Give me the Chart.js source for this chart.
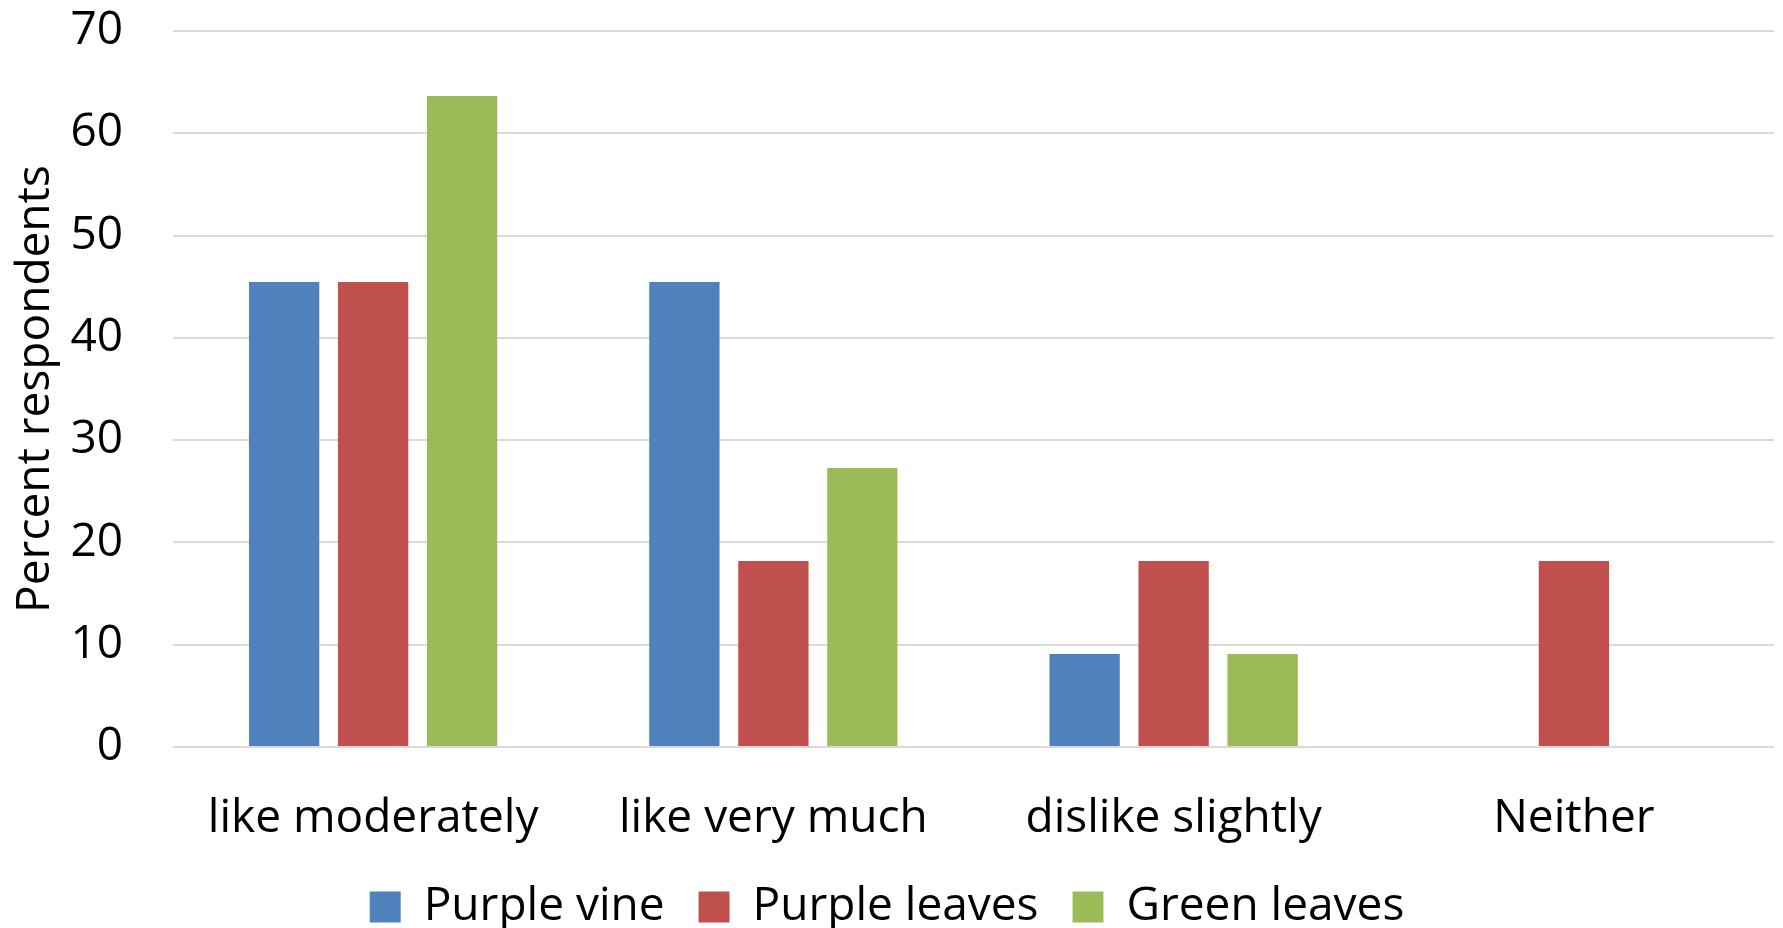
<!DOCTYPE html>
<html>
<head>
<meta charset="utf-8">
<style>
  html, body { margin: 0; padding: 0; background: #fff; }
  #chart { display: block; }
</style>
<script src="https://cdn.jsdelivr.net/npm/chart.js@4/dist/chart.umd.min.js"></script>
</head>
<body>
<canvas id="chart" width="1783" height="928"></canvas>
<script>
const categories = ["like moderately", "like very much", "dislike slightly", "Neither"];
const purpleVine = [45.45, 45.45, 9.09, 0];
const purpleLeaves = [45.45, 18.18, 18.18, 18.18];
const greenLeaves = [63.64, 27.27, 9.09, 0];
const yTicks = [0, 10, 20, 30, 40, 50, 60, 70];

const FONT = "'Open Sans', 'Noto Sans', sans-serif";

new Chart(document.getElementById("chart"), {
  type: "bar",
  data: {
    labels: categories,
    datasets: [
      { label: "Purple vine", data: purpleVine, backgroundColor: "#4F81BD" },
      { label: "Purple leaves", data: purpleLeaves, backgroundColor: "#C0504D" },
      { label: "Green leaves", data: greenLeaves, backgroundColor: "#9BBB59" }
    ]
  },
  options: {
    responsive: false,
    animation: false,
    // legend runs slightly past the bottom edge
    layout: { padding: { top: 31, right: 9, bottom: -12, left: 0 } },
    datasets: {
      bar: { categoryPercentage: 0.667, barPercentage: 0.79 }
    },
    plugins: {
      tooltip: { enabled: false },
      legend: {
        position: "bottom",
        labels: {
          color: "#000",
          font: { family: FONT, size: 46 },
          boxWidth: 31,
          boxHeight: 31,
          padding: 34
        }
      }
    },
    scales: {
      x: {
        afterFit: (scale) => { scale.height = 103; },
        grid: { display: false },
        border: { display: false },
        ticks: {
          color: "#000",
          font: { family: FONT, size: 46 },
          padding: 36,
          maxRotation: 0
        }
      },
      y: {
        min: 0,
        max: 70,
        afterFit: (scale) => {
          scale.width = 173;
          scale.paddingTop = 0;
          scale.paddingBottom = 0;
        },
        afterBuildTicks: (scale) => { scale.ticks = yTicks.map(v => ({ value: v })); },
        grid: { color: "#d9d9d9", lineWidth: 2, drawTicks: false },
        border: { display: false },
        ticks: {
          color: "#000",
          font: { family: FONT, size: 46 },
          padding: 50
        },
        title: {
          display: true,
          text: "Percent respondents",
          color: "#000",
          font: { family: FONT, size: 46 },
          padding: { top: 8, bottom: 4 }
        }
      }
    }
  }
});
</script>
</body>
</html>
